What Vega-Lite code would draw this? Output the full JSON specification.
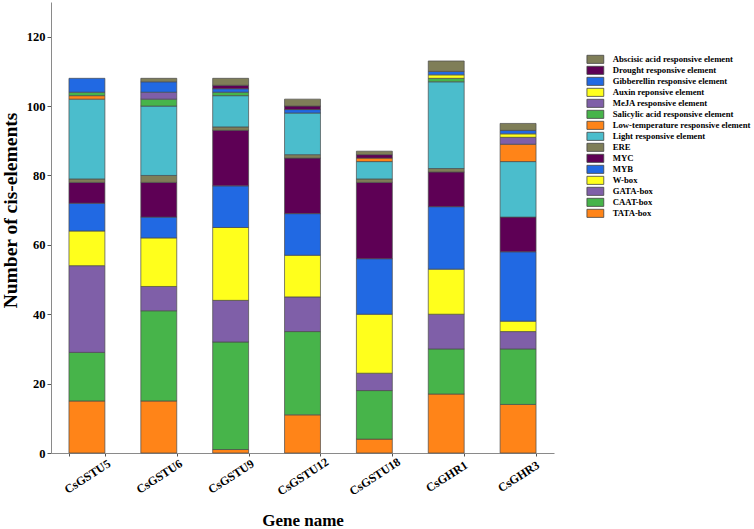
{
  "$schema": "https://vega.github.io/schema/vega-lite/v6.json",
  "width": 503,
  "height": 451,
  "padding": {"left": 0, "top": 2, "right": 0, "bottom": 0},
  "background": "white",
  "config": {
    "view": {"stroke": null},
    "font": "Liberation Serif",
    "axis": {"grid": false, "labelFont": "Liberation Serif", "titleFont": "Liberation Serif", "labelFontWeight": "bold", "titleFontWeight": "bold", "labelColor": "black", "titleColor": "black", "domainColor": "#8a8a8a", "tickColor": "#555555"}
  },
  "data": {
    "values": [
      {"gene": "CsGSTU5", "element": "TATA-box", "count": 15},
      {"gene": "CsGSTU5", "element": "CAAT-box", "count": 14},
      {"gene": "CsGSTU5", "element": "GATA-box", "count": 25},
      {"gene": "CsGSTU5", "element": "W-box", "count": 10},
      {"gene": "CsGSTU5", "element": "MYB", "count": 8},
      {"gene": "CsGSTU5", "element": "MYC", "count": 6},
      {"gene": "CsGSTU5", "element": "ERE", "count": 1},
      {"gene": "CsGSTU5", "element": "Light responsive element", "count": 23},
      {"gene": "CsGSTU5", "element": "Low-temperature responsive element", "count": 1},
      {"gene": "CsGSTU5", "element": "Salicylic acid responsive element", "count": 1},
      {"gene": "CsGSTU5", "element": "Gibberellin responsive element", "count": 4},

      {"gene": "CsGSTU6", "element": "TATA-box", "count": 15},
      {"gene": "CsGSTU6", "element": "CAAT-box", "count": 26},
      {"gene": "CsGSTU6", "element": "GATA-box", "count": 7},
      {"gene": "CsGSTU6", "element": "W-box", "count": 14},
      {"gene": "CsGSTU6", "element": "MYB", "count": 6},
      {"gene": "CsGSTU6", "element": "MYC", "count": 10},
      {"gene": "CsGSTU6", "element": "ERE", "count": 2},
      {"gene": "CsGSTU6", "element": "Light responsive element", "count": 20},
      {"gene": "CsGSTU6", "element": "Salicylic acid responsive element", "count": 2},
      {"gene": "CsGSTU6", "element": "MeJA responsive element", "count": 2},
      {"gene": "CsGSTU6", "element": "Gibberellin responsive element", "count": 3},
      {"gene": "CsGSTU6", "element": "Abscisic acid responsive element", "count": 1},

      {"gene": "CsGSTU9", "element": "TATA-box", "count": 1},
      {"gene": "CsGSTU9", "element": "CAAT-box", "count": 31},
      {"gene": "CsGSTU9", "element": "GATA-box", "count": 12},
      {"gene": "CsGSTU9", "element": "W-box", "count": 21},
      {"gene": "CsGSTU9", "element": "MYB", "count": 12},
      {"gene": "CsGSTU9", "element": "MYC", "count": 16},
      {"gene": "CsGSTU9", "element": "ERE", "count": 1},
      {"gene": "CsGSTU9", "element": "Light responsive element", "count": 9},
      {"gene": "CsGSTU9", "element": "Salicylic acid responsive element", "count": 1},
      {"gene": "CsGSTU9", "element": "Gibberellin responsive element", "count": 1},
      {"gene": "CsGSTU9", "element": "Drought responsive element", "count": 1},
      {"gene": "CsGSTU9", "element": "Abscisic acid responsive element", "count": 2},

      {"gene": "CsGSTU12", "element": "TATA-box", "count": 11},
      {"gene": "CsGSTU12", "element": "CAAT-box", "count": 24},
      {"gene": "CsGSTU12", "element": "GATA-box", "count": 10},
      {"gene": "CsGSTU12", "element": "W-box", "count": 12},
      {"gene": "CsGSTU12", "element": "MYB", "count": 12},
      {"gene": "CsGSTU12", "element": "MYC", "count": 16},
      {"gene": "CsGSTU12", "element": "ERE", "count": 1},
      {"gene": "CsGSTU12", "element": "Light responsive element", "count": 12},
      {"gene": "CsGSTU12", "element": "Gibberellin responsive element", "count": 1},
      {"gene": "CsGSTU12", "element": "Drought responsive element", "count": 1},
      {"gene": "CsGSTU12", "element": "Abscisic acid responsive element", "count": 2},

      {"gene": "CsGSTU18", "element": "TATA-box", "count": 4},
      {"gene": "CsGSTU18", "element": "CAAT-box", "count": 14},
      {"gene": "CsGSTU18", "element": "GATA-box", "count": 5},
      {"gene": "CsGSTU18", "element": "W-box", "count": 17},
      {"gene": "CsGSTU18", "element": "MYB", "count": 16},
      {"gene": "CsGSTU18", "element": "MYC", "count": 22},
      {"gene": "CsGSTU18", "element": "ERE", "count": 1},
      {"gene": "CsGSTU18", "element": "Light responsive element", "count": 5},
      {"gene": "CsGSTU18", "element": "Low-temperature responsive element", "count": 1},
      {"gene": "CsGSTU18", "element": "Drought responsive element", "count": 1},
      {"gene": "CsGSTU18", "element": "Abscisic acid responsive element", "count": 1},

      {"gene": "CsGHR1", "element": "TATA-box", "count": 17},
      {"gene": "CsGHR1", "element": "CAAT-box", "count": 13},
      {"gene": "CsGHR1", "element": "GATA-box", "count": 10},
      {"gene": "CsGHR1", "element": "W-box", "count": 13},
      {"gene": "CsGHR1", "element": "MYB", "count": 18},
      {"gene": "CsGHR1", "element": "MYC", "count": 10},
      {"gene": "CsGHR1", "element": "ERE", "count": 1},
      {"gene": "CsGHR1", "element": "Light responsive element", "count": 25},
      {"gene": "CsGHR1", "element": "Salicylic acid responsive element", "count": 1},
      {"gene": "CsGHR1", "element": "Auxin reponsive element", "count": 1},
      {"gene": "CsGHR1", "element": "Gibberellin responsive element", "count": 1},
      {"gene": "CsGHR1", "element": "Abscisic acid responsive element", "count": 3},

      {"gene": "CsGHR3", "element": "TATA-box", "count": 14},
      {"gene": "CsGHR3", "element": "CAAT-box", "count": 16},
      {"gene": "CsGHR3", "element": "GATA-box", "count": 5},
      {"gene": "CsGHR3", "element": "W-box", "count": 3},
      {"gene": "CsGHR3", "element": "MYB", "count": 20},
      {"gene": "CsGHR3", "element": "MYC", "count": 10},
      {"gene": "CsGHR3", "element": "Light responsive element", "count": 16},
      {"gene": "CsGHR3", "element": "Low-temperature responsive element", "count": 5},
      {"gene": "CsGHR3", "element": "MeJA responsive element", "count": 2},
      {"gene": "CsGHR3", "element": "Auxin reponsive element", "count": 1},
      {"gene": "CsGHR3", "element": "Gibberellin responsive element", "count": 1},
      {"gene": "CsGHR3", "element": "Abscisic acid responsive element", "count": 2}
    ]
  },
  "transform": [
    {"calculate": "indexof(['TATA-box', 'CAAT-box', 'GATA-box', 'W-box', 'MYB', 'MYC', 'ERE', 'Light responsive element', 'Low-temperature responsive element', 'Salicylic acid responsive element', 'MeJA responsive element', 'Auxin reponsive element', 'Gibberellin responsive element', 'Drought responsive element', 'Abscisic acid responsive element'], datum.element)", "as": "stackRank"}
  ],
  "mark": {"type": "bar", "stroke": "#4a4a4a", "strokeWidth": 0.7},
  "encoding": {
    "x": {
      "field": "gene", "type": "nominal",
      "sort": ["CsGSTU5", "CsGSTU6", "CsGSTU9", "CsGSTU12", "CsGSTU18", "CsGHR1", "CsGHR3"],
      "scale": {"paddingInner": 0.5, "paddingOuter": 0.25},
      "axis": {"title": "Gene name", "labelAngle": -33, "labelAlign": "center", "labelBaseline": "middle", "labelPadding": 20, "labelFontSize": 12, "titleFontSize": 17, "titleBaseline": "middle", "titleY": 67, "tickBand": "extent", "tickSize": 3}
    },
    "y": {
      "field": "count", "type": "quantitative", "stack": "zero",
      "scale": {"domain": [0, 130], "nice": false},
      "axis": {"title": "Number of cis-elements", "values": [0, 20, 40, 60, 80, 100, 120], "labelFontSize": 12.5, "titleFontSize": 19.5, "titlePadding": 6, "titleY": 208, "tickSize": 4, "labelPadding": 2}
    },
    "order": {"field": "stackRank", "type": "quantitative", "sort": "ascending"},
    "color": {
      "field": "element", "type": "nominal",
      "scale": {
        "domain": ["Abscisic acid responsive element", "Drought responsive element", "Gibberellin responsive element", "Auxin reponsive element", "MeJA responsive element", "Salicylic acid responsive element", "Low-temperature responsive element", "Light responsive element", "ERE", "MYC", "MYB", "W-box", "GATA-box", "CAAT-box", "TATA-box"],
        "range": ["#7f7e58", "#5e0055", "#2169e3", "#ffff1c", "#7f5fa8", "#47b44a", "#ff8418", "#4bbdcc", "#7f7e58", "#5e0055", "#2169e3", "#ffff1c", "#7f5fa8", "#47b44a", "#ff8418"]
      },
      "legend": {
        "title": null, "orient": "none", "legendX": 540, "legendY": 53, "padding": 0,
        "symbolType": "M-2.6,-1.25H2.6V1.25H-2.6Z", "symbolSize": 42, "symbolStrokeColor": "#444444", "symbolStrokeWidth": 0.8,
        "labelFont": "Liberation Serif", "labelFontWeight": "bold", "labelFontSize": 8.7, "labelColor": "black", "labelOffset": 13, "labelLimit": 300,
        "rowPadding": -2.25
      }
    }
  }
}
